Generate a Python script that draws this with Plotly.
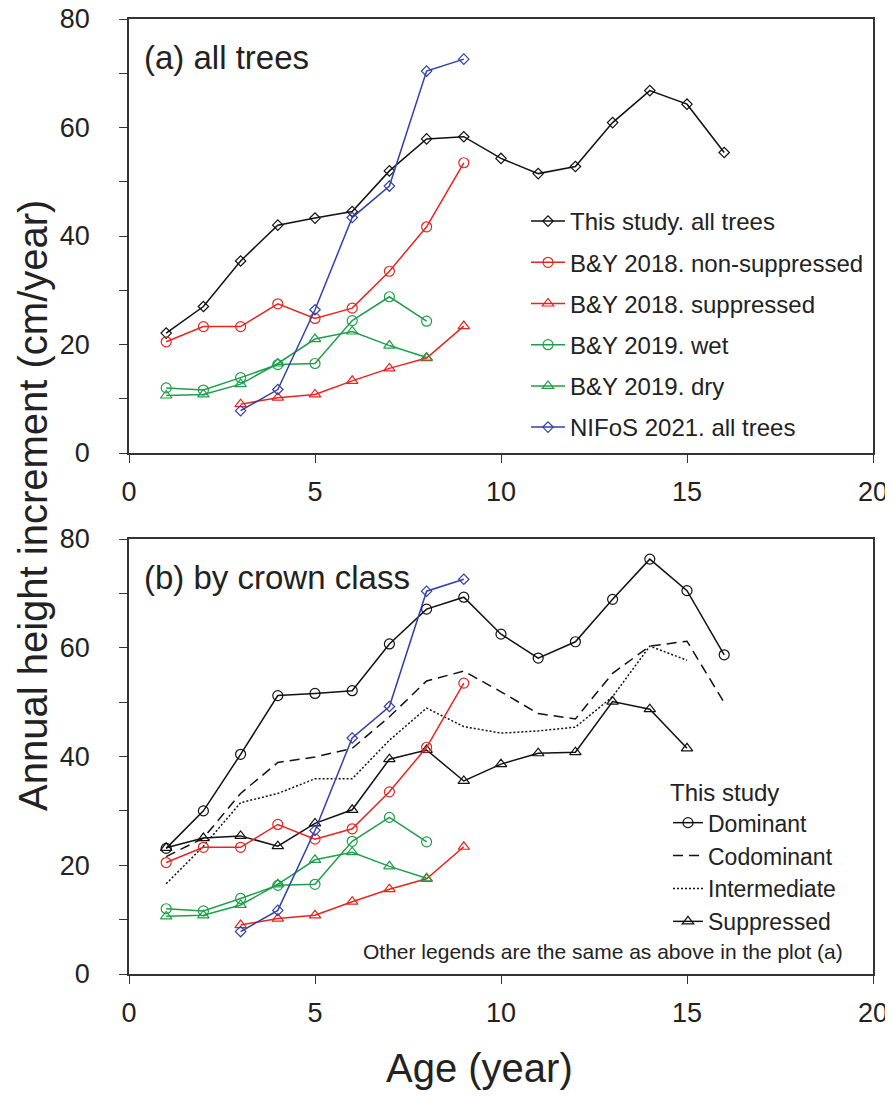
import plotly.graph_objects as go

# ---------------- data ----------------
age_all = [1, 2, 3, 4, 5, 6, 7, 8, 9, 10, 11, 12, 13, 14, 15, 16]
this_all = [22.1, 27.0, 35.4, 42.0, 43.3, 44.5, 52.0, 57.9, 58.3, 54.3, 51.5, 52.8, 60.9, 66.8, 64.3, 55.4]

age_by18ns = [1, 2, 3, 4, 5, 6, 7, 8, 9]
by18_nonsup = [20.5, 23.3, 23.3, 27.5, 24.8, 26.7, 33.5, 41.7, 53.5]

age_by18s = [3, 4, 5, 6, 7, 8, 9]
by18_sup = [9.0, 10.2, 10.8, 13.3, 15.6, 17.5, 23.4]

age_by19 = [1, 2, 3, 4, 5, 6, 7, 8]
by19_wet = [12.0, 11.6, 13.9, 16.3, 16.5, 24.4, 28.8, 24.3]
by19_dry = [10.6, 10.8, 12.7, 16.5, 21.0, 22.4, 19.8, 17.6]

age_nifos = [3, 4, 5, 6, 7, 8, 9]
nifos_all = [7.8, 11.7, 26.4, 43.4, 49.2, 70.4, 72.6]

age_dom = [1, 2, 3, 4, 5, 6, 7, 8, 9, 10, 11, 12, 13, 14, 15, 16]
dominant = [23.1, 30.0, 40.4, 51.2, 51.6, 52.1, 60.7, 67.1, 69.3, 62.5, 58.1, 61.1, 68.9, 76.3, 70.5, 58.7]

age_codom = [1, 2, 3, 4, 5, 6, 7, 8, 9, 10, 11, 12, 13, 14, 15, 16]
codominant = [21.6, 25.0, 33.2, 38.9, 39.9, 41.5, 47.3, 53.9, 55.7, 51.9, 47.9, 46.9, 55.3, 60.3, 61.2, 49.9]

age_inter = [1, 2, 3, 4, 5, 6, 7, 8, 9, 10, 11, 12, 13, 14, 15]
intermediate = [16.6, 23.5, 31.5, 33.2, 35.9, 35.9, 43.0, 48.9, 45.5, 44.3, 44.7, 45.4, 51.0, 60.3, 57.7]

age_supp = [1, 2, 3, 4, 5, 6, 7, 8, 9, 10, 11, 12, 13, 14, 15]
suppressed = [23.2, 25.0, 25.4, 23.5, 27.7, 30.2, 39.5, 41.2, 35.5, 38.6, 40.6, 40.8, 50.1, 48.7, 41.5]

x_ticks = [0, 5, 10, 15, 20]
y_ticks = [0, 20, 40, 60, 80]

# ---------------- styles ----------------
BLACK = "#111111"
RED = "#e8241f"
GREEN = "#1f9e49"
BLUE = "#3140a8"
FONT = "Liberation Sans, Arial, sans-serif"
LW = 1.5

# page body has an 8px margin; the figure is sized to fit the 893 x 1099 window
W, H = 885, 1083
PL, PR, PT, PB = 129, 873, 19, 974   # plot area in page pixels
OFF = 8


def px(xp):
    return (xp - PL) / (PR - PL)


def py(yp):
    return (PB - yp) / (PB - PT)


fig = go.Figure()

comparison = [
    ("B&Y 2018. non-suppressed", age_by18ns, by18_nonsup, RED, "circle-open", 10),
    ("B&Y 2018. suppressed", age_by18s, by18_sup, RED, "triangle-up-open", 10),
    ("B&Y 2019. wet", age_by19, by19_wet, GREEN, "circle-open", 10),
    ("B&Y 2019. dry", age_by19, by19_dry, GREEN, "triangle-up-open", 10),
    ("NIFoS 2021. all trees", age_nifos, nifos_all, BLUE, "diamond-open", 8),
]

# ---- panel (a) ----
fig.add_trace(go.Scatter(
    x=age_all, y=this_all, name="This study. all trees", mode="lines+markers",
    line=dict(color=BLACK, width=LW),
    marker=dict(symbol="diamond-open", size=8, color=BLACK, line=dict(width=1.2)),
    xaxis="x", yaxis="y", legend="legend", legendgroup="a0"))
for i, (nm, xs, ys, col, sym, sz) in enumerate(comparison):
    fig.add_trace(go.Scatter(
        x=xs, y=ys, name=nm, mode="lines+markers",
        line=dict(color=col, width=LW),
        marker=dict(symbol=sym, size=sz, color=col, line=dict(width=1.2)),
        xaxis="x", yaxis="y", legend="legend", legendgroup="a%d" % (i + 1)))

# ---- panel (b) ----
fig.add_trace(go.Scatter(
    x=age_dom, y=dominant, name="Dominant", mode="lines+markers",
    line=dict(color=BLACK, width=LW),
    marker=dict(symbol="circle-open", size=10, color=BLACK, line=dict(width=1.2)),
    xaxis="x2", yaxis="y2", legend="legend2"))
fig.add_trace(go.Scatter(
    x=age_codom, y=codominant, name="Codominant", mode="lines",
    line=dict(color=BLACK, width=LW, dash="10px,6px"),
    xaxis="x2", yaxis="y2", legend="legend2"))
fig.add_trace(go.Scatter(
    x=age_inter, y=intermediate, name="Intermediate", mode="lines",
    line=dict(color=BLACK, width=LW, dash="2px,2px"),
    xaxis="x2", yaxis="y2", legend="legend2"))
fig.add_trace(go.Scatter(
    x=age_supp, y=suppressed, name="Suppressed", mode="lines+markers",
    line=dict(color=BLACK, width=LW),
    marker=dict(symbol="triangle-up-open", size=10, color=BLACK, line=dict(width=1.2)),
    xaxis="x2", yaxis="y2", legend="legend2"))
for nm, xs, ys, col, sym, sz in comparison:
    fig.add_trace(go.Scatter(
        x=xs, y=ys, name=nm, mode="lines+markers", showlegend=False,
        line=dict(color=col, width=LW),
        marker=dict(symbol=sym, size=sz, color=col, line=dict(width=1.2)),
        xaxis="x2", yaxis="y2"))

axis_common = dict(
    showgrid=False, zeroline=False, showline=True, mirror=True, automargin=False,
    linecolor="#333333", linewidth=1.5, ticks="outside", ticklen=8,
    tickwidth=1.3, tickcolor="#333333", ticklabeloverflow="allow",
    tickfont=dict(family=FONT, size=27, color="#222222"),
)

xaxis_style = dict(axis_common, range=[0, 20], tickmode="array", tickvals=x_ticks,
                   ticklabelstandoff=6)
yaxis_style = dict(axis_common, range=[0, 80], tickmode="array", tickvals=y_ticks,
                   ticklabelstandoff=24,
                   minor=dict(tickmode="linear", tick0=0, dtick=10, ticks="outside",
                              ticklen=8, tickwidth=1.3, tickcolor="#333333", showgrid=False))

fig.update_layout(
    width=W, height=H,
    margin=dict(l=PL - OFF, r=W - (PR - OFF), t=PT - OFF, b=H - (PB - OFF), autoexpand=False),
    paper_bgcolor="white", plot_bgcolor="white",
    font=dict(family=FONT, color="#222222"),
    xaxis=dict(xaxis_style, domain=[0, 1], anchor="y"),
    yaxis=dict(yaxis_style, domain=[py(453), 1], anchor="x"),
    xaxis2=dict(xaxis_style, domain=[0, 1], anchor="y2"),
    yaxis2=dict(yaxis_style, domain=[0, py(539)], anchor="x2"),
    legend=dict(
        x=px(526), y=py(199), xanchor="left", yanchor="top",
        bgcolor="rgba(0,0,0,0)", borderwidth=0,
        font=dict(family=FONT, size=24, color="#222222"),
        itemwidth=34, tracegroupgap=7, traceorder="grouped",
    ),
    legend2=dict(
        x=px(668), y=py(770), xanchor="left", yanchor="top",
        bgcolor="rgba(0,0,0,0)", borderwidth=0,
        title=dict(text="This study", font=dict(family=FONT, size=24, color="#222222")),
        font=dict(family=FONT, size=23, color="#222222"),
        itemwidth=30,
    ),
    annotations=[
        dict(text="(a) all trees", xref="paper", yref="paper",
             x=px(142), y=py(57), xanchor="left", yanchor="middle",
             showarrow=False, font=dict(family=FONT, size=33, color="#222222")),
        dict(text="(b) by crown class", xref="paper", yref="paper",
             x=px(142), y=py(577), xanchor="left", yanchor="middle",
             showarrow=False, font=dict(family=FONT, size=33, color="#222222")),
        dict(text="Other legends are the same as above in the plot (a)",
             xref="paper", yref="paper", x=px(845), y=py(951),
             xanchor="right", yanchor="middle", showarrow=False,
             font=dict(family=FONT, size=21, color="#222222")),
        dict(text="Annual height increment (cm/year)", xref="paper", yref="paper",
             x=px(33), y=py(506), xanchor="center", yanchor="middle",
             textangle=-90, showarrow=False,
             font=dict(family=FONT, size=40, color="#222222")),
        dict(text="Age (year)", xref="paper", yref="paper",
             x=px(479), y=py(1068), xanchor="center", yanchor="middle",
             showarrow=False, font=dict(family=FONT, size=40, color="#222222")),
    ],
)

fig.write_html("out.html")
